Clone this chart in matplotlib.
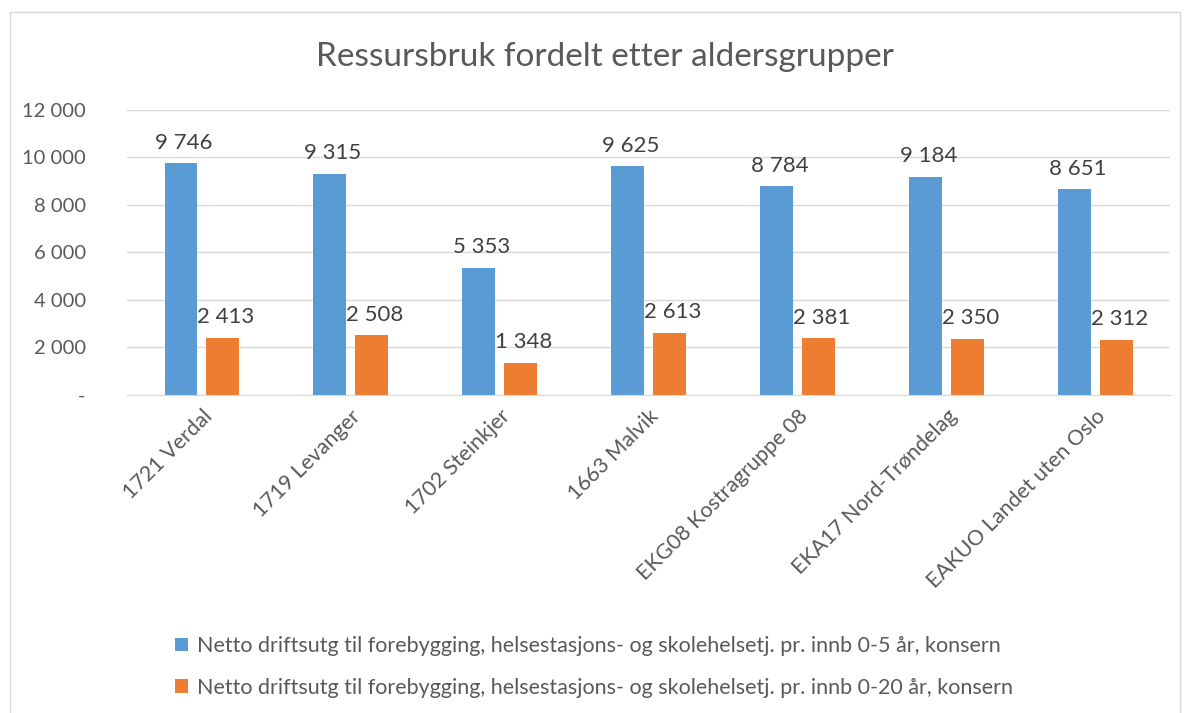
import matplotlib.pyplot as plt
from matplotlib.patches import Rectangle
import numpy as np

# data
categories = ["1721 Verdal", "1719 Levanger", "1702 Steinkjer", "1663 Malvik",
              "EKG08 Kostragruppe 08", "EKA17 Nord-Trøndelag", "EAKUO Landet uten Oslo"]
age_0_5 = [9746, 9315, 5353, 9625, 8784, 9184, 8651]
age_0_20 = [2413, 2508, 1348, 2613, 2381, 2350, 2312]
series_names = ["Netto driftsutg til forebygging, helsestasjons- og skolehelsetj. pr. innb 0-5 år, konsern",
                "Netto driftsutg til forebygging, helsestasjons- og skolehelsetj. pr. innb 0-20 år, konsern"]
yticks = [0, 2000, 4000, 6000, 8000, 10000, 12000]

plt.rcParams['font.family'] = ['Lato', 'DejaVu Sans']
text_col = '#595959'


def fmt(v):
    if v == 0:
        return "-"
    return f"{v:,}".replace(",", " ")


fig = plt.figure(figsize=(11.9, 7.13), dpi=100)
ax = fig.add_axes([0.107, 0.446, 0.876, 0.400])

x = np.arange(len(categories))
w = 0.22
off = 0.14
b1 = ax.bar(x - off, age_0_5, w, color='#5b9bd5', label=series_names[0])
b2 = ax.bar(x + off, age_0_20, w, color='#ed7d31', label=series_names[1])

for bars, vals in ((b1, age_0_5), (b2, age_0_20)):
    for r, v in zip(bars, vals):
        ax.text(r.get_x() + r.get_width() / 2 + 0.02, v + 450, fmt(v), ha='center',
                va='bottom', fontsize=16, color='#404040')

ax.set_ylim(0, 12000)
ax.set_xlim(-0.5, len(categories) - 0.5)
ax.set_yticks(yticks)
ax.set_yticklabels([fmt(v) for v in yticks], fontsize=14.5, color=text_col)
ax.set_xticks(x)
ax.set_xticklabels(categories, rotation=45, ha='right', rotation_mode='anchor',
                   fontsize=15.5, color=text_col)
ax.tick_params(length=0, pad=8)
ax.tick_params(axis='y', pad=30)
ax.grid(axis='y', color='#d9d9d9', linewidth=1)
ax.set_axisbelow(True)
for s in ['top', 'right', 'left']:
    ax.spines[s].set_visible(False)
ax.spines['bottom'].set_color('#d9d9d9')

fig.text(0.508, 0.92, "Ressursbruk fordelt etter aldersgrupper", ha='center',
         va='center', fontsize=24, color=text_col)

fig.legend(handles=[b1, b2], loc='upper left', bbox_to_anchor=(0.131, 0.135),
           ncol=1, frameon=False, fontsize=15.5, labelcolor=text_col,
           handlelength=0.6, handleheight=0.6, handletextpad=0.4, labelspacing=1.0)

fig.patches.append(Rectangle((10 / 1190, -0.01), 1170 / 1190, 1 - 12 / 713 + 0.01,
                             transform=fig.transFigure, fill=False,
                             edgecolor='#d9d9d9', linewidth=1))

fig.savefig("out.png", dpi=100)
